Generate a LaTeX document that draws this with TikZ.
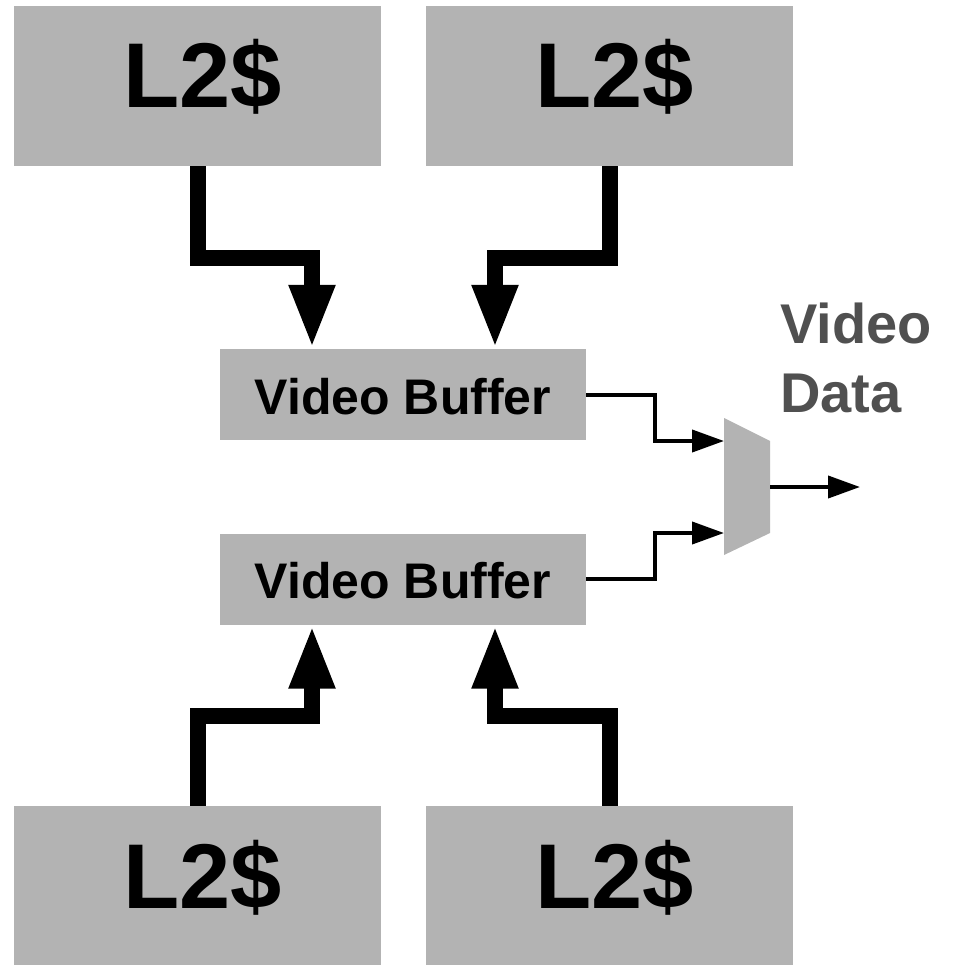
\documentclass[tikz,border=0pt]{standalone}
\usepackage{fontspec}
\setmainfont{Liberation Sans}
\usetikzlibrary{arrows.meta}
\definecolor{boxgray}{RGB}{179,179,179}
\definecolor{labelgray}{RGB}{80,80,80}
\tikzset{
  cachebox/.style={fill=boxgray, draw=none, inner sep=0pt, minimum width=367pt, minimum height=160pt},
  bufbox/.style={fill=boxgray, draw=none, inner sep=0pt, minimum width=366pt, minimum height=91pt},
  bigtxt/.style={font=\fontsize{92}{100}\selectfont\bfseries, inner sep=0pt, anchor=base},
  buftxt/.style={font=\fontsize{50}{60}\selectfont\bfseries, inner sep=0pt, anchor=base},
  fatarrow/.style={line width=16pt, line join=miter, -{Triangle[width=42pt,length=64pt]}},
  thinarrow/.style={line width=4pt, line join=miter, -{Triangle[width=22pt,length=32pt]}},
}
\begin{document}
\begin{tikzpicture}[x=1pt,y=-1pt]
\useasboundingbox (0,0) rectangle (957,965);
% L2 caches
\node[cachebox] (tl) at (197.5,86) {};
\node[cachebox] (tr) at (609.5,86) {};
\node[cachebox] (bl) at (197.5,886) {};
\node[cachebox] (br) at (609.5,886) {};
\node[bigtxt] (tlt) at ([xshift=5pt,yshift=-22pt]tl.center) {L2\$};
\node[bigtxt] (trt) at ([xshift=5pt,yshift=-22pt]tr.center) {L2\$};
\node[bigtxt] (blt) at ([xshift=5pt,yshift=-22pt]bl.center) {L2\$};
\node[bigtxt] (brt) at ([xshift=5pt,yshift=-22pt]br.center) {L2\$};
% video buffers
\node[bufbox] (vb1) at (403,394.5) {};
\node[bufbox] (vb2) at (403,579) {};
\node[buftxt] (vb1t) at ([yshift=-19.5pt]vb1.center) {Video Buffer};
\node[buftxt] (vb2t) at ([yshift=-19.5pt]vb2.center) {Video Buffer};
% mux
\fill[boxgray] (724,418) -- (770,441) -- (770,533) -- (724,555) -- cycle;
\coordinate (in1) at (724,441);
\coordinate (in2) at (724,533);
\coordinate (mout) at (770,487);
\coordinate (outend) at (860,487);
% label
\node[font=\fontsize{56}{69}\selectfont\bfseries, text=labelgray, align=left, anchor=base west, inner sep=0pt] (vdata) at (780,412) {Video\\Data};
% fat arrows
\draw[fatarrow] (tl.south) -- ++(0,92) -| ([xshift=-91pt]vb1.north);
\draw[fatarrow] (tr.south) -- ++(0,92) -| ([xshift=92pt]vb1.north);
\draw[fatarrow] (bl.north) -- ++(0,-90) -| ([xshift=-91pt]vb2.south);
\draw[fatarrow] (br.north) -- ++(0,-90) -| ([xshift=92pt]vb2.south);
% thin arrows
\draw[thinarrow] (vb1.east) -- ++(69,0) |- (in1);
\draw[thinarrow] (vb2.east) -- ++(69,0) |- (in2);
\draw[thinarrow] (mout) -- (outend);
\end{tikzpicture}
\end{document}
